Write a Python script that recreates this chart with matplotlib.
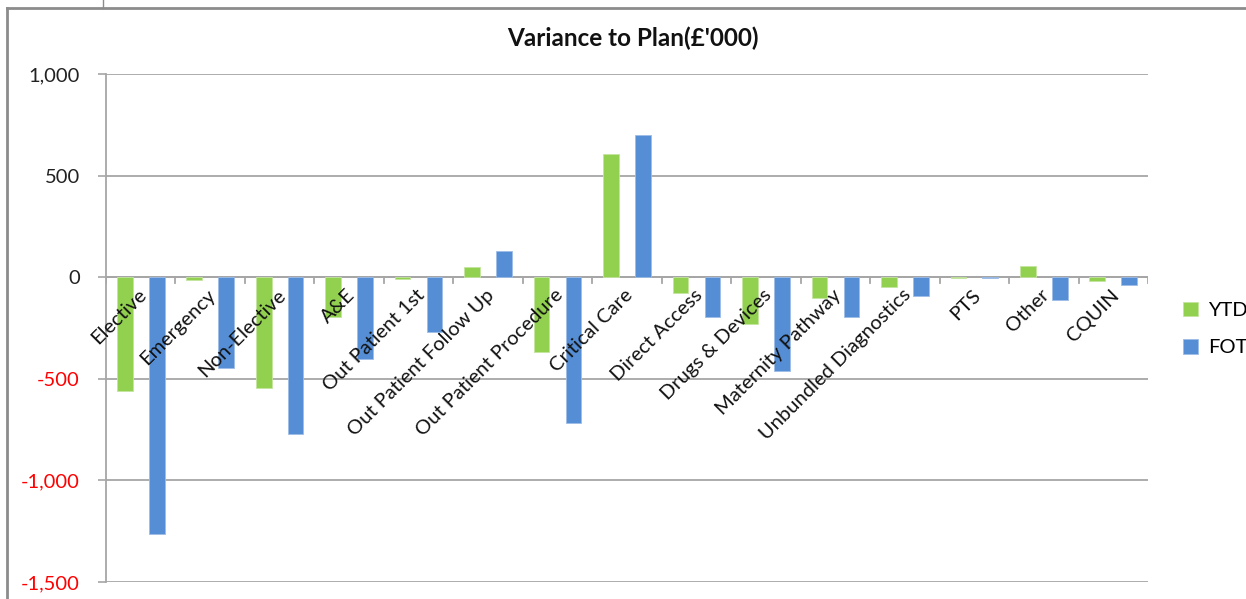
import numpy as np
import matplotlib
matplotlib.use('Agg')
import matplotlib.pyplot as plt
from matplotlib.lines import Line2D
from matplotlib.ticker import FuncFormatter
import matplotlib.transforms as mtransforms

plt.rcParams.update({
    'font.family': ['Lato', 'DejaVu Sans'],
})

categories = ['Elective', 'Emergency', 'Non-Elective', 'A&E', 'Out Patient 1st',
              'Out Patient Follow Up', 'Out Patient Procedure', 'Critical Care',
              'Direct Access', 'Drugs & Devices', 'Maternity Pathway',
              'Unbundled Diagnostics', 'PTS', 'Other', 'CQUIN']
ytd = [-560, -15, -545, -195, -7, 48, -370, 606, -79, -228, -100, -46, -6, 56, -20]
fot = [-1265, -445, -772, -401, -270, 128, -719, 700, -197, -460, -194, -92, -6, -112, -38]
yticks = [-1500, -1000, -500, 0, 500, 1000]

GREEN = '#92D050'
BLUE = '#558ED5'
GRID = '#A6A6A6'

fig = plt.figure(figsize=(12.46, 5.99), dpi=100)
ax = fig.add_axes([106 / 1246, 1 - 582 / 599, (1148 - 106) / 1246, (582 - 74) / 599])

x = np.arange(len(categories))
w = 0.225
off = 0.23
ax.bar(x - off, ytd, w, color=GREEN, edgecolor='#C4E59F', linewidth=0.6, label='YTD', zorder=3)
ax.bar(x + off, fot, w, color=BLUE, edgecolor='#9DBDE8', linewidth=0.6, label='FOT', zorder=3)

ax.set_xlim(-0.5, len(categories) - 0.5)
ax.set_ylim(-1500, 1000)
ax.set_yticks(yticks)
ax.yaxis.set_major_formatter(FuncFormatter(lambda v, p: f'{int(v):,}'))
ax.grid(axis='y', color=GRID, linewidth=1.3, zorder=0)
ax.tick_params(axis='y', length=5.8, width=1.2, color=GRID, labelsize=14.5, pad=13)
for lbl, v in zip(ax.get_yticklabels(), yticks):
    lbl.set_color('red' if v < 0 else '#222222')

for s in ['top', 'right', 'bottom']:
    ax.spines[s].set_visible(False)
ax.spines['left'].set_color(GRID)
ax.spines['left'].set_linewidth(1.3)
ax.set_xticks([])

# category axis drawn at zero, ticks between categories
ax.axhline(0, color=GRID, linewidth=1.3, zorder=2)
for b in np.arange(-0.5, len(categories), 1.0):
    ax.add_line(Line2D([b, b], [0, -30], color=GRID, linewidth=1.3, zorder=2))

lab_tr = mtransforms.offset_copy(ax.transData, fig=fig, x=3, y=-15, units='dots')
for i, name in enumerate(categories):
    ax.text(i, 0, name, transform=lab_tr, rotation=45, ha='right', va='center',
            rotation_mode='anchor', fontsize=14.5, color='#111111', zorder=4)

fig.text(633 / 1246, 1 - 38 / 599, "Variance to Plan(£'000)", ha='center', va='center',
         fontsize=17.5, fontweight='bold', color='#111111')

leg = ax.legend(loc='center left', bbox_to_anchor=(1183 / 1246, 1 - 329 / 599),
                bbox_transform=fig.transFigure, frameon=False, borderpad=0,
                borderaxespad=0, fontsize=14.5, handlelength=0.75, handleheight=0.75,
                labelspacing=1.0, handletextpad=0.5)

# outer frame lines
fig.add_artist(Line2D([7 / 1246, 7 / 1246], [0, 1 - 8 / 599], color='#8C8C8C', linewidth=2))
fig.add_artist(Line2D([7 / 1246, 1], [1 - 8 / 599, 1 - 8 / 599], color='#8C8C8C', linewidth=2))
fig.add_artist(Line2D([103 / 1246, 103 / 1246], [1 - 8 / 599, 1], color='#8C8C8C', linewidth=1))

fig.savefig('out.png', dpi=100)
